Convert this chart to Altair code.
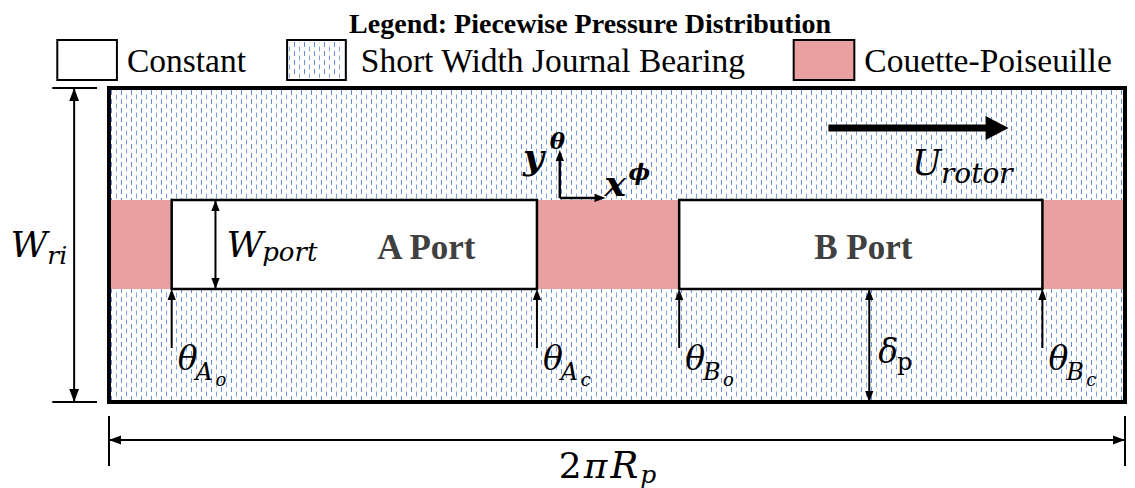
import altair as alt
import pandas as pd
import numpy as np

# ---------------- data (diagram units) ----------------
# x : fraction of the circumference 2*pi*R_p (0 = left edge, 1 = right edge)
# y : fraction of the ring width W_ri (0 = bottom edge, 1 = top edge)
title_text = "Legend: Piecewise Pressure Distribution"
legend_labels = ["Constant", "Short Width Journal Bearing", "Couette-Poiseuille"]
legend_fill = ["white", "white", "#e9a0a0"]
legend_x0 = [-0.0509, 0.1753, 0.6739]
legend_x1 = [0.0078, 0.2331, 0.7336]

boundary_pos = [0.0617, 0.4212, 0.5612, 0.9187]      # theta_Ao, theta_Ac, theta_Bo, theta_Bc
boundary_sub = ["A", "A", "B", "B"]
boundary_subsub = ["o", "c", "o", "c"]
segment_type = ["Couette-Poiseuille", "Constant", "Couette-Poiseuille", "Constant", "Couette-Poiseuille"]
port_band = [0.360, 0.643]                            # bottom / top of the port band
port_names = ["A Port", "B Port"]
port_label_x = [0.3124, 0.7424]

HATCH_COLOR = "#3d70cf"
CP_COLOR = "#e9a0a0"

# ---------------- scales ----------------
W, H = 1119, 480
xs = alt.Scale(domain=[-0.099409, 1.001969], nice=False, zero=False)
ys = alt.Scale(domain=[-0.27389, 1.25478], nice=False, zero=False)


def X(f="x"):
    return alt.X(f"{f}:Q", scale=xs, axis=None)


def Y(f="y"):
    return alt.Y(f"{f}:Q", scale=ys, axis=None)


# ---------------- rectangles ----------------
edges = [0.0] + boundary_pos + [1.0]
segs = pd.DataFrame({
    "x": edges[:-1], "x2": edges[1:],
    "y": [port_band[0]] * 5, "y2": [port_band[1]] * 5,
    "type": segment_type,
})

legend_df = pd.DataFrame({
    "x": legend_x0, "x2": legend_x1,
    "y": [1.0255] * 3, "y2": [1.1529] * 3,
    "fill": legend_fill, "label": legend_labels,
    "tx": [0.0176, 0.2478, 0.7434], "ty": [1.0510] * 3,
})

legend_boxes = alt.Chart(legend_df).mark_rect(stroke="black", strokeWidth=2).encode(
    x=X(), x2="x2", y=Y(), y2="y2", fill=alt.Fill("fill:N", scale=None)
)

# hatch texture (vertical dashed strokes) for the short-width-journal-bearing regions
hx_main = np.arange(2.5, 1014, 5) / 1016
hx_leg = np.arange(180.5, 235, 5) / 1016
hatch = pd.DataFrame({
    "x": np.concatenate([hx_main, hx_leg]),
    "y": np.concatenate([np.full(len(hx_main), 0.99363), np.full(len(hx_leg), 1.14650)]),
    "y2": np.concatenate([np.full(len(hx_main), 0.00637), np.full(len(hx_leg), 1.03185)]),
})
hatch["parity"] = np.arange(len(hatch)) % 2

hatch_a = alt.Chart(hatch).transform_filter("datum.parity == 0").mark_rule(
    color=HATCH_COLOR, strokeWidth=1, strokeDash=[5, 4], strokeDashOffset=0, opacity=0.8
).encode(x=X(), y=Y(), y2="y2")
hatch_b = alt.Chart(hatch).transform_filter("datum.parity == 1").mark_rule(
    color=HATCH_COLOR, strokeWidth=1, strokeDash=[5, 4], strokeDashOffset=4.5, opacity=0.65
).encode(x=X(), y=Y(), y2="y2")

cp_rects = alt.Chart(segs).transform_filter("datum.type == 'Couette-Poiseuille'").mark_rect(
    color=CP_COLOR
).encode(x=X(), x2="x2", y=Y(), y2="y2")
const_rects = alt.Chart(segs).transform_filter("datum.type == 'Constant'").mark_rect(
    fill="white", stroke="black", strokeWidth=2.5
).encode(x=X(), x2="x2", y=Y(), y2="y2")

box = alt.Chart(pd.DataFrame({"x": [0.0], "x2": [1.0], "y": [0.0], "y2": [1.0]})).mark_rect(
    fillOpacity=0, stroke="black", strokeWidth=4
).encode(x=X(), x2="x2", y=Y(), y2="y2")

# ---------------- lines ----------------
pb0, pb1 = port_band
rows = [
    # W_ri dimension
    (-0.0343, 0.0, -0.0343, 1.0, 2.0),
    (-0.0558, 1.0, -0.0118, 1.0, 2.0),
    (-0.0558, 0.0, -0.0118, 0.0, 2.0),
    # W_port dimension
    (0.1048, pb0, 0.1048, pb1, 2.0),
    # delta_p dimension
    (0.7483, 0.0, 0.7483, pb0, 2.0),
    # 2 pi R_p dimension
    (0.0, -0.121, 1.0, -0.121, 2.0),
    (0.0, -0.0446, 0.0, -0.2038, 2.0),
    (1.0, -0.0446, 1.0, -0.2038, 2.0),
    # coordinate axes
    (0.4437, 0.6497, 0.4437, 0.790, 2.5),
    (0.4437, 0.6497, 0.480, 0.6497, 2.5),
    # rotor velocity
    (0.7081, 0.8726, 0.866, 0.8726, 7.0),
]
for b in boundary_pos:
    rows.append((b, 0.172, b, pb0 - 0.01, 2.0))
lines = pd.DataFrame(rows, columns=["x", "y", "x2", "y2", "w"])
line_layer = alt.Chart(lines).mark_rule(color="black", strokeCap="butt").encode(
    x=X(), y=Y(), x2="x2", y2="y2", strokeWidth=alt.StrokeWidth("w:Q", scale=None)
)

# ---------------- arrow heads ----------------
SHAPES = {
    "up": "M0,0L-0.75,2L0.75,2Z",
    "down": "M0,0L-0.75,-2L0.75,-2Z",
    "right": "M0,0L-2,-0.75L-2,0.75Z",
    "left": "M0,0L2,-0.75L2,0.75Z",
    "bigright": "M0,0L-2,-1.05L-2,1.05Z",
}
heads = [
    (-0.0343, 1.0, "up", 13), (-0.0343, 0.0, "down", 13),
    (0.1048, pb1, "up", 11), (0.1048, pb0, "down", 11),
    (0.7483, pb0, "up", 11), (0.7483, 0.0, "down", 11),
    (0.0, -0.121, "left", 12), (1.0, -0.121, "right", 12),
    (0.4437, 0.8025, "up", 11), (0.4887, 0.6497, "right", 11),
    (0.8854, 0.8726, "bigright", 23),
]
for b in boundary_pos:
    heads.append((b, pb0, "up", 11))
heads_df = pd.DataFrame(heads, columns=["x", "y", "dir", "L"])
heads_df["shape"] = heads_df["dir"].map(SHAPES)
heads_df["size"] = heads_df["L"] ** 2
head_layer = alt.Chart(heads_df).mark_point(filled=True, color="black", opacity=1, strokeWidth=0).encode(
    x=X(), y=Y(), shape=alt.Shape("shape:N", scale=None), size=alt.Size("size:Q", scale=None)
)


# ---------------- text ----------------
def text_layer(rows, font, align="left", weight="normal", style="normal", color="black"):
    df = pd.DataFrame(rows, columns=["t", "x", "y", "s"])
    return alt.Chart(df).mark_text(
        font=font, align=align, baseline="alphabetic", fontWeight=weight, fontStyle=style, color=color
    ).encode(x=X(), y=Y(), text="t:N", size=alt.Size("s:Q", scale=None))


SERIF = "Liberation Serif"
MATH = "DejaVu Serif"

title_layer = text_layer([(title_text, 0.4735, 1.1752, 28)], SERIF, align="center", weight="bold")
legend_text = text_layer(
    [(l, x, y, 33.5) for l, x, y in zip(legend_labels, legend_df["tx"], legend_df["ty"])], SERIF
)
port_text = text_layer(
    [(n, x, 0.4554, 35) for n, x in zip(port_names, port_label_x)], SERIF, align="center",
    weight="bold", color="#404040"
)

math_rows = [
    ("W", -0.0969, 0.4618, 36), ("ri", -0.0607, 0.4395, 25),
    ("W", 0.1156, 0.4618, 36), ("port", 0.1508, 0.4490, 26),
    ("U", 0.7904, 0.7229, 35), ("rotor", 0.8188, 0.6975, 28),
    ("δ", 0.7571, 0.1242, 33),
    ("π", 0.4672, -0.2420, 36), ("R", 0.4936, -0.2420, 37), ("p", 0.5230, -0.2580, 25),
]
for b, s1, s2 in zip(boundary_pos, boundary_sub, boundary_subsub):
    math_rows.append(("θ", b + 0.0059, 0.1019, 33))
    math_rows.append((s1, b + 0.0235, 0.0701, 24))
    math_rows.append((s2, b + 0.0431, 0.0510, 18))
math_italic = text_layer(math_rows, MATH, style="italic")
math_upright = text_layer([("p", 0.7757, 0.1019, 24), ("2", 0.4427, -0.2420, 36)], MATH)
math_bold = text_layer(
    [("y", 0.4074, 0.7420, 36), ("θ", 0.4339, 0.8057, 23), ("x", 0.4878, 0.6561, 36), ("ϕ", 0.5113, 0.7070, 23)],
    MATH, weight="bold", style="italic"
)

chart = alt.layer(
    legend_boxes, hatch_a, hatch_b, cp_rects, const_rects, box, line_layer, head_layer,
    title_layer, legend_text, port_text, math_italic, math_upright, math_bold
).properties(
    width=W, height=H, autosize=alt.AutoSizeParams(type="none"), padding=0
).configure_view(stroke=None)

chart.save("out.html", embed_options={"renderer": "svg", "actions": False})
